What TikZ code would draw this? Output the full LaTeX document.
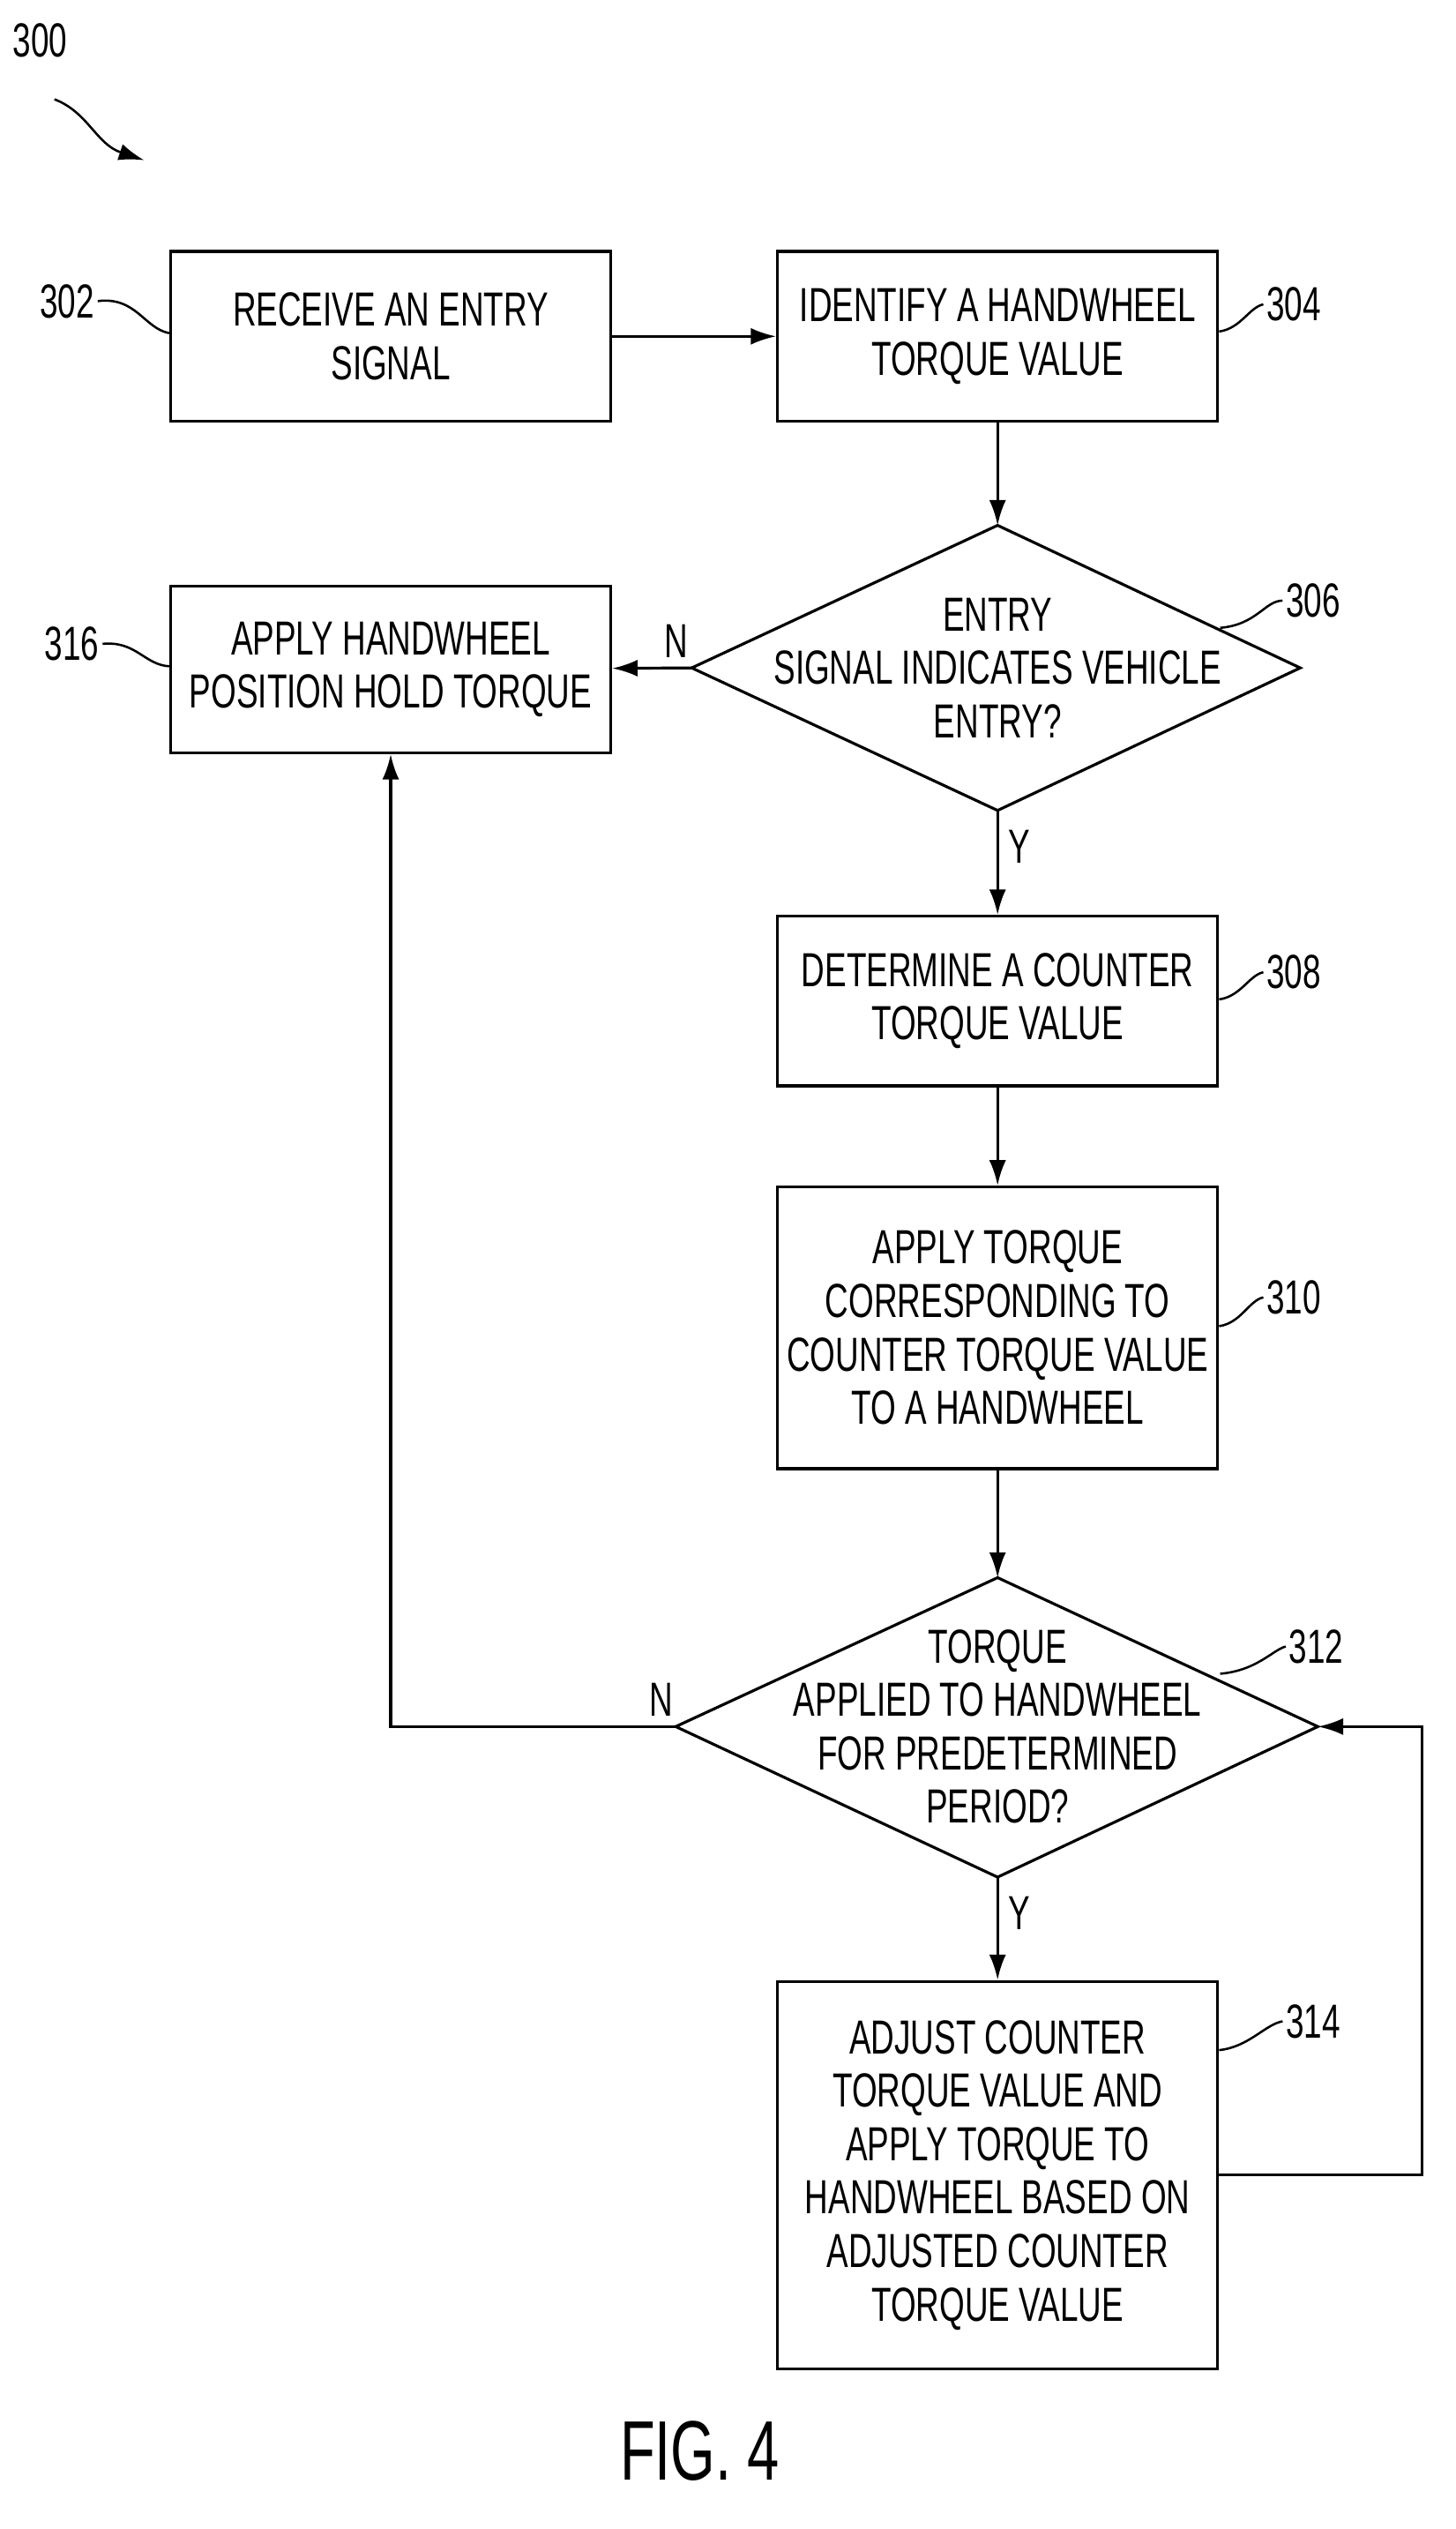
\documentclass[tikz,border=0pt]{standalone}
\usepackage{fontspec}
\setmainfont{Liberation Sans}[FakeStretch=0.68]
\usetikzlibrary{shapes,arrows,arrows.meta,calc,positioning}
\begin{document}
\begin{tikzpicture}[x=0.02cm, y=-0.02cm, >={Latex[length=9pt,width=6pt]}, font=\fontsize{17}{19}\selectfont]
\tikzset{block/.style = {draw, rectangle, line width=1pt, minimum width=5.5cm,
  align=center, inner sep=2pt},
  flow/.style = {line width=1pt, ->},
  refnum/.style = {inner sep=1pt},
  lead/.style = {line width=0.8pt}}
\useasboundingbox (0,0) rectangle (909,1579);

  \node[refnum] (fig) at (25,25) {300};
  \draw[lead, ->] (34,62) .. controls (55,70) and (60,90) .. (90,100);

  \node[block, minimum height=2.12cm] (receive) at (244,210)
    {RECEIVE AN ENTRY\\SIGNAL};
  \node[block, minimum height=2.12cm] (identify) at (623,210)
    {IDENTIFY A HANDWHEEL\\TORQUE VALUE};
  \node[align=center] (entry) at (623,417)
    {ENTRY\\SIGNAL INDICATES VEHICLE\\ENTRY?};
  \coordinate (entry-t) at (623,328);
  \coordinate (entry-b) at (623,506);
  \coordinate (entry-l) at (432,417);
  \coordinate (entry-r) at (812,417);
  \draw[line width=1pt] (entry-t) -- (entry-r) -- (entry-b) -- (entry-l) -- cycle;
  \node[block, minimum height=2.08cm] (hold) at (244,418)
    {APPLY HANDWHEEL\\POSITION HOLD TORQUE};
  \node[block, minimum height=2.12cm] (determine) at (623,625)
    {DETERMINE A COUNTER\\TORQUE VALUE};
  \node[block, minimum height=3.52cm] (apply) at (623,829)
    {APPLY TORQUE\\CORRESPONDING TO\\COUNTER TORQUE VALUE\\TO A HANDWHEEL};
  \node[align=center] (period) at (623,1078)
    {TORQUE\\APPLIED TO HANDWHEEL\\FOR PREDETERMINED\\PERIOD?};
  \coordinate (period-t) at (623,985);
  \coordinate (period-b) at (623,1172);
  \coordinate (period-l) at (422,1078);
  \coordinate (period-r) at (823,1078);
  \draw[line width=1pt] (period-t) -- (period-r) -- (period-b) -- (period-l) -- cycle;
  \node[block, minimum height=4.84cm] (adjust) at (623,1358)
    {ADJUST COUNTER\\TORQUE VALUE AND\\APPLY TORQUE TO\\HANDWHEEL BASED ON\\ADJUSTED COUNTER\\TORQUE VALUE};

  % flow
  \draw[flow] (receive) -- (identify);
  \draw[flow] (identify) -- (entry-t);
  \draw[flow] (entry-b) -- node[right, pos=0.35] {Y} (determine);
  \draw[flow] (entry-l) -- node[above, pos=0.2] {N} (hold);
  \draw[flow] (determine) -- (apply);
  \draw[flow] (apply) -- (period-t);
  \draw[flow] (period-b) -- node[right, pos=0.35] {Y} (adjust);
  \draw[flow] (period-l) -- node[above, pos=0.05] {N}
    (period-l -| hold) -- (hold);
  \coordinate (loop) at (888,1078);
  \draw[flow] (adjust.east) -| (loop) -- (period-r);

  % reference numerals
  \node[refnum] (n302) at (42,188) {302};
  \draw[lead] (n302.east) .. controls (85,185) and (90,205) .. (receive.west |- 0,208);
  \node[refnum] (n304) at (808,190) {304};
  \draw[lead] (n304.west) .. controls (780,192) and (775,205) .. (identify.east |- 0,207);
  \node[refnum] (n306) at (820,375) {306};
  \draw[lead] (n306.west) .. controls (790,375) and (785,390) .. (762,392);
  \node[refnum] (n316) at (45,402) {316};
  \draw[lead] (n316.east) .. controls (85,400) and (90,415) .. (hold.west |- 0,416);
  \node[refnum] (n308) at (808,607) {308};
  \draw[lead] (n308.west) .. controls (780,609) and (775,622) .. (determine.east |- 0,624);
  \node[refnum] (n310) at (808,810) {310};
  \draw[lead] (n310.west) .. controls (780,812) and (775,826) .. (apply.east |- 0,828);
  \node[refnum] (n312) at (822,1028) {312};
  \draw[lead] (n312.west) .. controls (795,1030) and (785,1043) .. (762,1045);
  \node[refnum] (n314) at (820,1262) {314};
  \draw[lead] (n314.west) .. controls (790,1264) and (780,1278) .. (adjust.east |- 0,1280);

  \node[font=\fontsize{30}{34}\selectfont] (caption) at (437,1530) {FIG. 4};
\end{tikzpicture}
\end{document}
